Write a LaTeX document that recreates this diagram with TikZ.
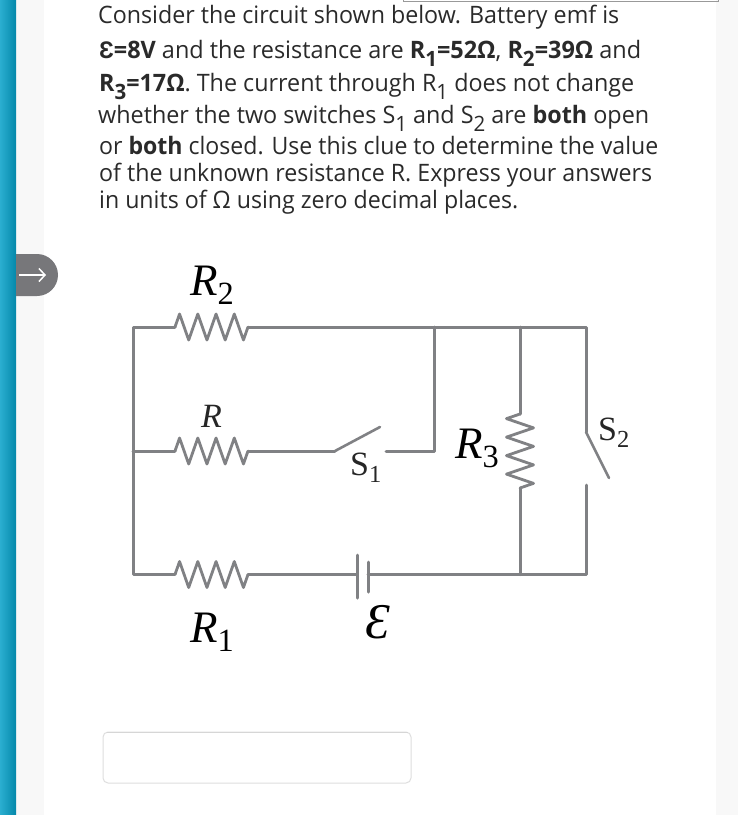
\documentclass[tikz,border=0pt]{standalone}
\usepackage[no-math]{fontspec}
\setmainfont{Open Sans}
\newfontfamily\labelfont{Liberation Serif}
\newfontfamily\emfsign{Liberation Sans}
\usetikzlibrary{arrows.meta,decorations.pathmorphing,shapes.misc}
\definecolor{wiregray}{HTML}{808184}
\definecolor{tabgray}{HTML}{77777A}
\definecolor{sidebar}{HTML}{05A0C8}
\definecolor{pagegray}{HTML}{F8F8F8}
\definecolor{inkgray}{HTML}{2A2A2A}
\tikzstyle{wire} = [draw=wiregray, line width=3pt, line cap=round, line join=round]
\tikzstyle{blade} = [draw=wiregray, line width=2.6pt, line cap=round]
\tikzstyle{res} = [wire, line width=2.8pt, decorate, decoration={zigzag, amplitude=13pt, segment length=18.25pt}]
\tikzstyle{resv} = [wire, line width=2.8pt, decorate, decoration={zigzag, amplitude=13.5pt, segment length=18.5pt, mirror}]
\tikzstyle{para} = [anchor=base west, inner sep=0pt, text=inkgray, font=\fontsize{24}{29}\selectfont]
\tikzstyle{big} = [anchor=base west, inner sep=0pt, text=black, font=\labelfont\fontsize{45}{50}\selectfont]
\tikzstyle{mid} = [anchor=base west, inner sep=0pt, text=black!85, font=\labelfont\fontsize{34}{38}\selectfont]
\newcommand{\fitline}[2]{\resizebox{#1pt}{\height}{#2}}
\newcommand{\lowidx}[1]{\raisebox{-.34em}{\scalebox{.88}{#1}}}
\newcommand{\labelidx}[1]{\raisebox{-.22em}{\scalebox{.72}{#1}}}

\begin{document}
\begin{tikzpicture}[x=1pt,y=-1pt]
\useasboundingbox (0,0) rectangle (738,815);

% page
\fill[pagegray] (0,0) rectangle (738,815);
\fill[white] (44,0) rectangle (716,815);
\shade[left color=sidebar!85!white, right color=sidebar!85!black] (0,0) rectangle (16,815);
\draw[black!40, line width=1pt] (403.5,0) -- (403.5,1.5) -- (718,1.5) -- (718,0);
\node[draw=black!13, line width=1pt, fill=white, rounded corners=5pt, minimum width=308pt, minimum height=51pt, inner sep=0pt] (answer) at (257,757.5) {};
\draw[black!16, line width=1.6pt] ([xshift=4pt,yshift=-1pt]answer.north west) -- ([xshift=-4pt,yshift=-1pt]answer.north east);

% question text
\node[para] (line1) at (98,23) {\fitline{521}{Consider the circuit shown below. Battery emf is}};
\node[para] (line2) at (99,58) {\fitline{542}{{\emfsign\bfseries Ɛ}\textbf{=8V} and the resistance are \textbf{R\lowidx{1}=52Ω}, \textbf{R\lowidx{2}=39Ω} and}};
\node[para] (line3) at (99,91) {\fitline{535}{\textbf{R\lowidx{3}=17Ω}. The current through R\lowidx{1} does not change}};
\node[para] (line4) at (98,123) {\fitline{551}{whether the two switches S\lowidx{1} and S\lowidx{2} are \textbf{both} open}};
\node[para] (line5) at (99,154) {\fitline{559}{or \textbf{both} closed. Use this clue to determine the value}};
\node[para] (line6) at (99,181) {\fitline{553}{of the unknown resistance R. Express your answers}};
\node[para] (line7) at (99,208) {\fitline{419}{in units of Ω using zero decimal places.}};

% side tab
\node[fill=tabgray, rounded rectangle, rounded rectangle west arc=none, minimum width=42pt, minimum height=42pt, inner sep=0pt] (tab) at (37,275) {};
\coordinate (tabin) at (19,275);
\coordinate (tabout) at (46,275);
\draw[white, line width=1.5pt, -{Straight Barb[length=6pt,width=13pt]}] (tabin) -- (tabout);

% circuit corners and junctions
\coordinate (tl) at (133,327);
\coordinate (ml) at (133,451);
\coordinate (bl) at (133,574.5);
\coordinate (tj) at (434,327);
\coordinate (tm) at (520,327);
\coordinate (tr) at (586,327);
\coordinate (bm) at (520,574.5);
\coordinate (br) at (586,574.5);
\coordinate (R2a) at (175,327);
\coordinate (R2b) at (248,327);
\coordinate (Ra) at (175,451);
\coordinate (Rb) at (248,451);
\coordinate (R1a) at (175,574.5);
\coordinate (R1b) at (248,574.5);
\coordinate (R3a) at (520,414);
\coordinate (R3b) at (520,488);
\coordinate (S1hinge) at (335,451);
\coordinate (S1tip) at (380,427);
\coordinate (S1stud) at (386,451.5);
\coordinate (S1bend) at (434,451.5);
\coordinate (S2hinge) at (586,432);
\coordinate (S2tip) at (609,478);
\coordinate (S2stud) at (586,485);
\coordinate (batL) at (357,574.5);
\coordinate (batS) at (368,574.5);
\coordinate (batLtop) at (357,555);
\coordinate (batLbot) at (357,598);
\coordinate (batStop) at (368,562);
\coordinate (batSbot) at (368,592);

\draw[wire] (R2a) -- (tl) -- (bl) -- (R1a);
\draw[wire] (ml) -- (Ra);
\draw[wire] (R2b) -- (tr) -- (S2hinge);
\draw[wire] (tj) -- (S1bend) -- (S1stud);
\draw[wire] (Rb) -- (S1hinge);
\draw[wire] (tm) -- (R3a);
\draw[wire] (R3b) -- (bm);
\draw[wire] (R1b) -- (batL);
\draw[wire] (batS) -- (br) -- (S2stud);
\draw[res] (R2a) -- (R2b);
\draw[res] (Ra) -- (Rb);
\draw[res] (R1a) -- (R1b);
\draw[resv] (R3a) -- (R3b);
\draw[blade] (S1hinge) -- (S1tip);
\draw[blade] (S2hinge) -- (S2tip);
\draw[wire] (batLtop) -- (batLbot);
\draw[wire] (batStop) -- (batSbot);

% labels
\node[big] (labelR2) at (190,295) {\textit{R}\labelidx{2}};
\node[big] (labelR1) at (190,642) {\textit{R}\labelidx{1}};
\node[mid] (labelR) at (201,427) {\textit{R}};
\node[big] (labelR3) at (455,458) {\textit{R}\labelidx{3}};
\node[mid] (labelS1) at (350,475) {S\labelidx{1}};
\node[mid] (labelS2) at (598,440) {S\labelidx{2}};
\node[big, font=\labelfont\fontsize{50}{56}\selectfont] (labelE) at (365,638) {\textit{Ɛ}};
\end{tikzpicture}
\end{document}
